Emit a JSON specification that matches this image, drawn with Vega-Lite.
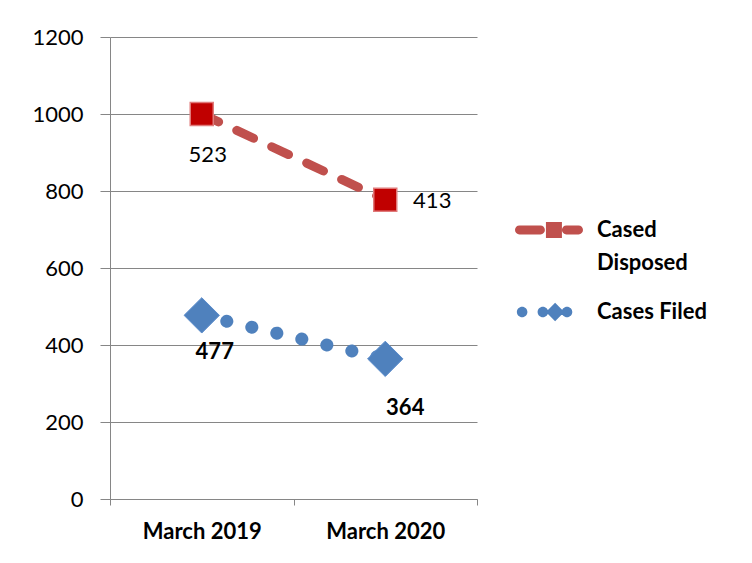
{
  "$schema": "https://vega.github.io/schema/vega-lite/v6.json",
  "autosize": {"type": "none"},
  "padding": {"left": 110, "top": 37, "right": 275, "bottom": 64},
  "width": 367,
  "height": 462,
  "background": "white",
  "config": {"view": {"stroke": null}, "font": "Lato"},
  "data": {"values": [
    {"month": "March 2019", "series": "Cased Disposed", "value": 523},
    {"month": "March 2020", "series": "Cased Disposed", "value": 413},
    {"month": "March 2019", "series": "Cases Filed", "value": 477},
    {"month": "March 2020", "series": "Cases Filed", "value": 364}
  ]},
  "transform": [
    {"stack": "value", "groupby": ["month"], "sort": [{"field": "series", "order": "descending"}], "as": ["y0", "y1"]}
  ],
  "encoding": {
    "x": {"field": "month", "type": "nominal", "bandPosition": 0.5,
      "scale": {"type": "band", "domain": ["March 2019", "March 2020"], "paddingInner": 0, "paddingOuter": 0},
      "axis": {"title": null, "labelAngle": 0, "tickBand": "extent", "labelFont": "Lato", "labelFontSize": 22, "labelFontWeight": "bold", "labelColor": "black", "domainColor": "#868686", "tickColor": "#868686", "tickSize": 6, "labelPadding": 16, "grid": false}},
    "y": {"field": "y1", "type": "quantitative",
      "scale": {"domain": [0, 1200], "nice": false},
      "axis": {"title": null, "format": "d", "values": [0, 200, 400, 600, 800, 1000, 1200], "labelFont": "Lato", "labelFontSize": 22, "labelColor": "black", "grid": true, "gridColor": "#868686", "domainColor": "#868686", "tickColor": "#868686", "tickSize": 10, "labelPadding": 17}}
  },
  "layer": [
    {"transform": [{"filter": "datum.series == 'Cased Disposed'"}],
     "mark": {"type": "line", "stroke": "#c0504d", "strokeWidth": 9, "strokeDash": [18.6, 20], "strokeCap": "round"}},
    {"transform": [{"filter": "datum.series == 'Cases Filed'"}],
     "mark": {"type": "line", "stroke": "#4f81bd", "strokeWidth": 13, "strokeDash": [0.1, 25.6], "strokeCap": "round"}},
    {"transform": [{"filter": "datum.series == 'Cased Disposed'"}],
     "mark": {"type": "point", "shape": "square", "filled": true, "fill": "#c00000", "stroke": "#e07a7a", "strokeWidth": 1.5, "size": 529, "opacity": 1}},
    {"transform": [{"filter": "datum.series == 'Cases Filed'"}],
     "mark": {"type": "point", "shape": "diamond", "filled": true, "fill": "#4f81bd", "stroke": "#5b8ccc", "strokeWidth": 1, "size": 1250, "opacity": 1}},
    {"transform": [{"filter": "datum.series == 'Cased Disposed' && datum.month == 'March 2019'"}],
     "mark": {"type": "text", "font": "Lato", "fontSize": 22, "color": "black", "dx": 6, "dy": 41},
     "encoding": {"text": {"field": "value", "type": "quantitative"}}},
    {"transform": [{"filter": "datum.series == 'Cased Disposed' && datum.month == 'March 2020'"}],
     "mark": {"type": "text", "font": "Lato", "fontSize": 22, "color": "black", "dx": 47, "dy": 1},
     "encoding": {"text": {"field": "value", "type": "quantitative"}}},
    {"transform": [{"filter": "datum.series == 'Cases Filed' && datum.month == 'March 2019'"}],
     "mark": {"type": "text", "font": "Lato", "fontSize": 22, "fontWeight": "bold", "color": "black", "dx": 13, "dy": 37},
     "encoding": {"text": {"field": "value", "type": "quantitative"}}},
    {"transform": [{"filter": "datum.series == 'Cases Filed' && datum.month == 'March 2020'"}],
     "mark": {"type": "text", "font": "Lato", "fontSize": 22, "fontWeight": "bold", "color": "black", "dx": 20, "dy": 49},
     "encoding": {"text": {"field": "value", "type": "quantitative"}}},
    {"mark": {"type": "point", "filled": true, "opacity": 0, "size": 4624},
     "encoding": {
       "fill": {"field": "series", "type": "nominal",
         "scale": {"domain": ["Cased Disposed", "Cases Filed"], "range": ["#c0504d", "#4f81bd"]},
         "legend": {"title": null, "orient": "none", "legendX": 405, "legendY": 159, "symbolSize": 4624, "symbolStrokeWidth": 0, "symbolOpacity": 1, "labelFont": "Lato", "labelFontSize": 22, "labelFontWeight": "bold", "labelColor": "black", "labelOffset": 14, "labelBaseline": "middle", "labelLimit": 300, "rowPadding": 4, "padding": 0,
           "labelExpr": "datum.label == 'Cased Disposed' ? ['Cased', 'Disposed'] : datum.label",
           "encode": {"labels": {"update": {"lineHeight": {"value": 33}}}}}},
       "shape": {"field": "series", "type": "nominal",
         "scale": {"domain": ["Cased Disposed", "Cases Filed"], "range": [
           "M-0.87,-0.13H-0.25A0.13,0.13 0 0 1 -0.25,0.13H-0.87A0.13,0.13 0 0 1 -0.87,-0.13Z M-0.09,-0.235H0.38V0.235H-0.09Z M0.51,-0.13H0.87A0.13,0.13 0 0 1 0.87,0.13H0.51A0.13,0.13 0 0 1 0.51,-0.13Z",
           "M-0.945,0A0.155,0.155 0 1 1 -0.635,0A0.155,0.155 0 1 1 -0.945,0Z M-0.335,0A0.155,0.155 0 1 1 -0.025,0A0.155,0.155 0 1 1 -0.335,0Z M0.18,-0.27L0.45,0L0.18,0.27L-0.09,0Z M0.375,0A0.155,0.155 0 1 1 0.685,0A0.155,0.155 0 1 1 0.375,0Z"
         ]},
         "legend": {"title": null, "orient": "none", "legendX": 405, "legendY": 159, "symbolSize": 4624, "symbolStrokeWidth": 0, "symbolOpacity": 1, "labelFont": "Lato", "labelFontSize": 22, "labelFontWeight": "bold", "labelColor": "black", "labelOffset": 14, "labelBaseline": "middle", "labelLimit": 300, "rowPadding": 4, "padding": 0,
           "labelExpr": "datum.label == 'Cased Disposed' ? ['Cased', 'Disposed'] : datum.label",
           "encode": {"labels": {"update": {"lineHeight": {"value": 33}}}}}}
     }}
  ]
}
